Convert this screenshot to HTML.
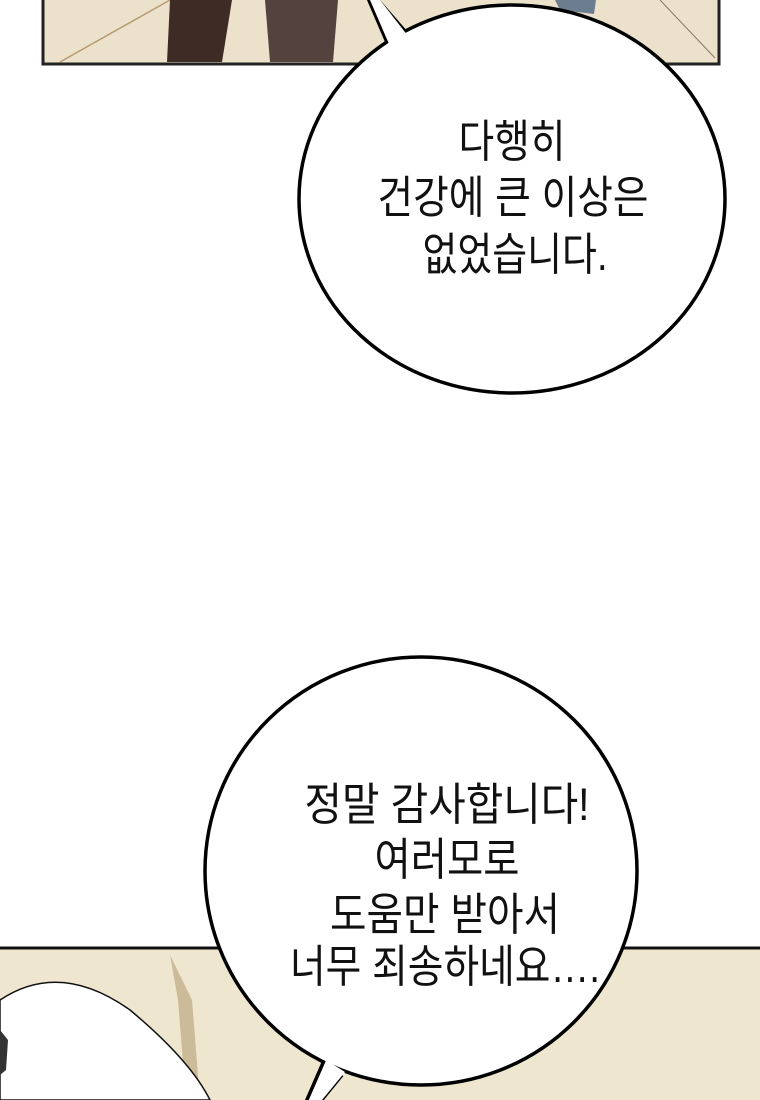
<!DOCTYPE html>
<html><head><meta charset="utf-8"><style>
html,body{margin:0;padding:0;background:#fff;}
svg{display:block}
text{font-family:"Liberation Sans","Noto Sans CJK KR","NanumGothic",sans-serif;font-size:45px;fill:#111;text-anchor:middle}
</style></head><body>
<svg width="760" height="1100" viewBox="0 0 760 1100">
<!-- top panel -->
<rect x="43" y="-5" width="676" height="69" fill="#ece2cb" stroke="#222" stroke-width="3"/>
<line x1="60" y1="62" x2="170" y2="0" stroke="#b59c70" stroke-width="1.5"/>
<line x1="660" y1="0" x2="715" y2="58" stroke="#8a7a60" stroke-width="1"/>
<path d="M170 0 L232 0 L222 62 L167 62 Z" fill="#3e2b26"/>
<path d="M265 0 L338 0 L333 62 L270 62 Z" fill="#54423f"/>
<path d="M555 0 L596 0 L594 14 L560 10 Z" fill="#6d7d90"/>
<!-- bubble 1 -->
<path d="M368 -2 L386 40 L404 30 L376 -2" fill="#fff" stroke="#000" stroke-width="3.5"/>
<ellipse cx="512" cy="199" rx="213" ry="194" fill="#fff" stroke="#000" stroke-width="3.5"/>
<path d="M370 0 L389 44 L408 36 L380 0 Z" fill="#fff"/>
<text x="512" y="157" textLength="107" lengthAdjust="spacingAndGlyphs">다행히</text>
<text x="513" y="213" textLength="271" lengthAdjust="spacingAndGlyphs">건강에 큰 이상은</text>
<text x="515" y="270" textLength="185" lengthAdjust="spacingAndGlyphs">없었습니다.</text>
<!-- bottom panel -->
<rect x="0" y="948" width="760" height="160" fill="#efe6cf"/>
<line x1="0" y1="948" x2="760" y2="948" stroke="#111" stroke-width="3"/>
<path d="M170 955 L178 1000 L186 1100 L200 1100 L192 1000 Z" fill="#cbbb98"/>
<path d="M0 1000 Q60 960 130 1010 Q190 1060 210 1100 L0 1100 Z" fill="#fff" stroke="#111" stroke-width="1.5"/>
<path d="M0 1030 L8 1040 L6 1070 L0 1075 Z" fill="#333"/>
<!-- bubble 2 -->
<ellipse cx="421" cy="871" rx="216" ry="214" fill="#fff" stroke="#000" stroke-width="3.5"/>
<path d="M323 1063 L306 1102 L320 1102 L342 1075" fill="#fff" stroke="#000" stroke-width="3.5"/>
<path d="M326 1060 L312 1100 L322 1100 L345 1072 Z" fill="#fff"/>
<text x="447" y="820" textLength="285" lengthAdjust="spacingAndGlyphs">정말 감사합니다!</text>
<text x="447" y="875" textLength="145" lengthAdjust="spacingAndGlyphs">여러모로</text>
<text x="445" y="930" textLength="230" lengthAdjust="spacingAndGlyphs">도움만 받아서</text>
<text x="445" y="982" textLength="310" lengthAdjust="spacingAndGlyphs">너무 죄송하네요….</text>
</svg>
</body></html>
